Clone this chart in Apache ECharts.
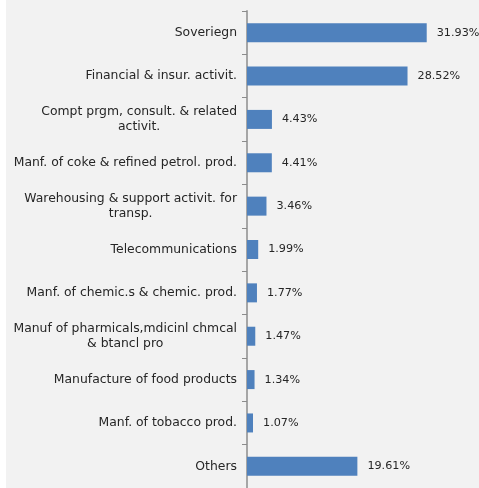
<!DOCTYPE html>
<html>
<head>
<meta charset="utf-8">
<script src="https://cdn.jsdelivr.net/npm/echarts@6/dist/echarts.min.js"></script>
<style>
html, body { margin: 0; padding: 0; background: #ffffff; }
#show { position: absolute; left: 6px; top: 0; width: 473px; height: 488px; }
</style>
</head>
<body>
<div id="show"></div>
<script>
var sectors = [
    "Soveriegn",
    "Financial & insur. activit.",
    "Compt prgm, consult. & related\nactivit.",
    "Manf. of coke & refined petrol. prod.",
    "Warehousing & support activit. for\ntransp.",
    "Telecommunications",
    "Manf. of chemic.s & chemic. prod.",
    "Manuf of pharmicals,mdicinl chmcal\n& btancl pro",
    "Manufacture of food products",
    "Manf. of tobacco prod.",
    "Others"
];
var shares = [31.93, 28.52, 4.43, 4.41, 3.46, 1.99, 1.77, 1.47, 1.34, 1.07, 19.61];

var myChart = echarts.init(document.getElementById("show"));

var textFont = "DejaVu Sans";

myChart.setOption({
    backgroundColor: "#f2f2f2",
    animation: false,
    grid: {
        left: 241,
        right: 35,
        top: 11,
        bottom: -4
    },
    xAxis: {
        type: "value",
        min: 0,
        max: 35,
        show: false
    },
    yAxis: {
        type: "category",
        data: sectors,
        inverse: true,
        axisLine: { lineStyle: { color: "#a6a6a6", width: 2 } },
        axisTick: { show: true, length: 5, lineStyle: { color: "#8c8c8c", width: 1 } },
        axisLabel: {
            margin: 10,
            formatter: function (v) {
                return v.split("\n").map(function (s) { return "{a|" + s + "}"; }).join("\n");
            },
            rich: {
                a: {
                    align: "center",
                    fontFamily: textFont,
                    fontSize: 12.4,
                    color: "#262626",
                    lineHeight: 15
                }
            }
        }
    },
    series: [
        {
            type: "bar",
            data: shares,
            barWidth: 19,
            itemStyle: { color: "#4f81bd" },
            label: {
                show: true,
                position: "right",
                distance: 10,
                fontFamily: textFont,
                fontSize: 11.2,
                color: "#262626",
                formatter: function (p) { return p.value.toFixed(2) + "%"; }
            }
        }
    ]
});
</script>
</body>
</html>
